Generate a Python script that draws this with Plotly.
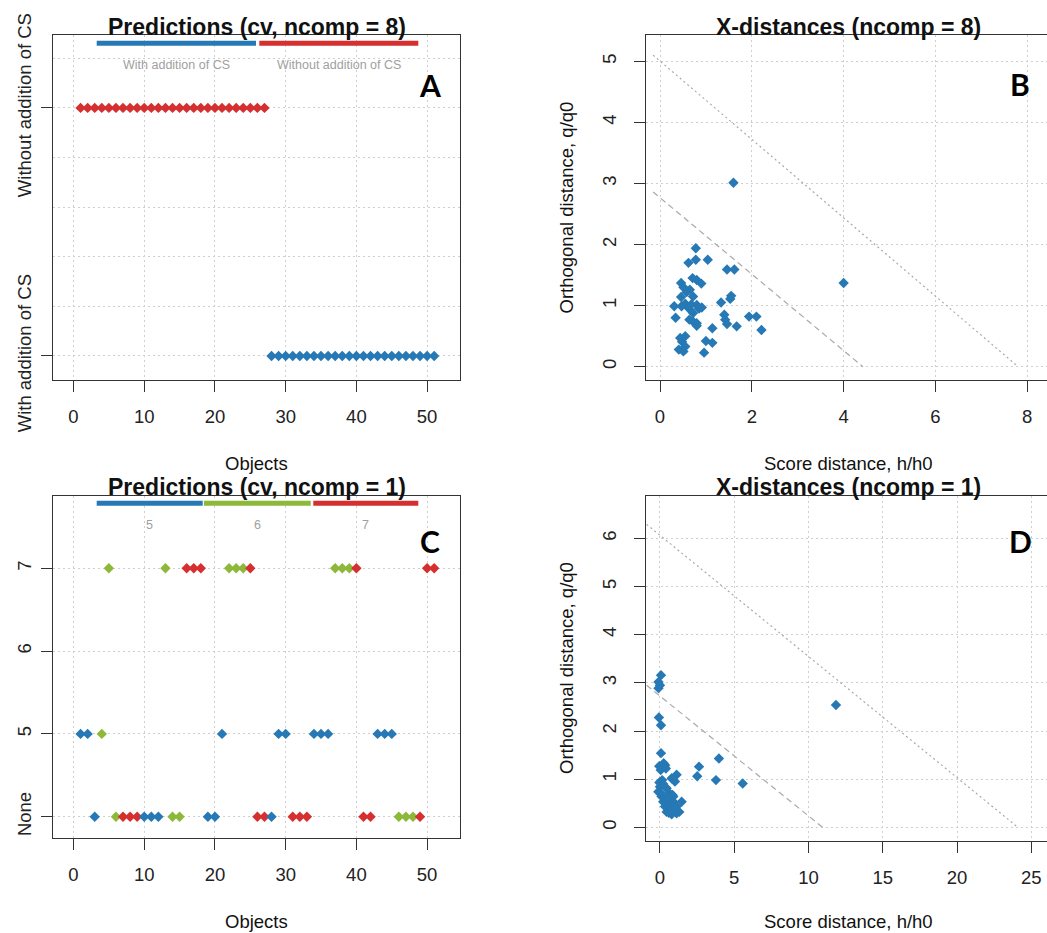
import plotly.graph_objects as go

W, H = 1047, 933

# ---------------- data ----------------
objects = list(range(1, 52))

# Panel A: predictions with ncomp = 8 (1 = With addition of CS, 2 = Without addition of CS)
classes_A = ["With addition of CS", "Without addition of CS"]
pred_A = [2, 2, 2, 2, 2, 2, 2, 2, 2, 2, 2, 2, 2, 2, 2, 2, 2, 2, 2, 2, 2, 2, 2, 2, 2, 2, 2,
          1, 1, 1, 1, 1, 1, 1, 1, 1, 1, 1, 1, 1, 1, 1, 1, 1, 1, 1, 1, 1, 1, 1, 1]
ref_A = [2, 2, 2, 2, 2, 2, 2, 2, 2, 2, 2, 2, 2, 2, 2, 2, 2, 2, 2, 2, 2, 2, 2, 2, 2, 2, 2,
         1, 1, 1, 1, 1, 1, 1, 1, 1, 1, 1, 1, 1, 1, 1, 1, 1, 1, 1, 1, 1, 1, 1, 1]

# Panel C: predictions with ncomp = 1
classes_C = ["None", "5", "6", "7"]
pred_C = ["5", "5", "None", "5", "7", "None", "None", "None", "None", "None",
          "None", "None", "7", "None", "None", "7", "7", "7", "None", "None",
          "5", "7", "7", "7", "7", "None", "None", "None", "5", "5",
          "None", "None", "None", "5", "5", "5", "7", "7", "7", "7",
          "None", "None", "5", "5", "5", "None", "None", "None", "None", "7", "7"]
ref_C = ["5", "5", "5", "6", "6", "6", "7", "7", "7", "5",
         "5", "5", "6", "6", "6", "7", "7", "7", "5", "5",
         "5", "6", "6", "6", "7", "7", "7", "5", "5", "5",
         "7", "7", "7", "5", "5", "5", "6", "6", "6", "7",
         "7", "7", "5", "5", "5", "6", "6", "6", "7", "7", "7"]

# Panel B: X-distances, ncomp = 8
h_B = [1.60, 4.00, 0.78, 0.62, 0.78, 1.04, 1.46, 1.62, 0.46, 0.51,
       0.71, 0.80, 0.90, 0.65, 0.72, 0.46, 0.31, 0.55, 0.62, 0.72,
       0.80, 0.91, 1.33, 1.53, 1.55, 0.34, 0.64, 0.72, 0.80, 0.80,
       1.40, 1.42, 1.46, 1.67, 1.94, 2.10, 2.21, 1.14, 1.00, 1.14,
       0.96, 0.41, 0.51, 0.55, 0.48, 0.55, 0.44, 0.58, 0.68, 0.47, 0.85]
q_B = [3.01, 1.37, 1.94, 1.70, 1.75, 1.75, 1.59, 1.59, 1.37, 1.30,
       1.45, 1.42, 1.36, 1.26, 1.15, 1.14, 0.99, 1.03, 0.96, 0.88,
       1.01, 0.97, 1.05, 1.11, 1.16, 0.80, 0.77, 0.74, 0.71, 0.67,
       0.85, 0.77, 0.70, 0.66, 0.82, 0.82, 0.60, 0.63, 0.42, 0.39,
       0.23, 0.28, 0.25, 0.33, 0.41, 0.50, 0.47, 1.22, 1.02, 0.99, 0.95]
limB_extreme_h = [-0.15, 4.42]
limB_extreme_q = [2.86, 0.0]
limB_outlier_h = [-0.15, 7.80]
limB_outlier_q = [5.10, 0.0]

# Panel D: X-distances, ncomp = 1
h_D = [0.07, -0.10, 0.00, -0.10, -0.07, 0.07, 0.07, -0.05, 0.10, 0.35,
       0.05, 0.25, 0.79, 1.12, 1.01, 0.85, 2.63, 2.51, 3.97, 3.77,
       5.57, 11.85, 0.00, -0.11, 0.11, 0.45, 0.67, 0.85, 0.22, 0.56,
       0.90, 1.12, 1.46, 0.34, 0.79, 0.45, 1.30, 0.79, 0.90, 0.11,
       0.63, -0.04, 0.22, 0.67, 1.12, 0.60, 0.30, 1.00, 0.40, 0.15, 0.55]
q_D = [3.16, 3.02, 2.95, 2.89, 2.28, 2.12, 1.54, 1.27, 1.25, 1.29,
       1.19, 1.33, 1.02, 1.09, 0.95, 1.00, 1.26, 1.06, 1.43, 0.98,
       0.91, 2.54, 0.84, 0.74, 0.70, 0.81, 0.70, 0.67, 0.53, 0.50,
       0.53, 0.43, 0.53, 0.43, 0.39, 0.32, 0.32, 0.27, 0.64, 0.64,
       0.36, 0.93, 0.90, 0.57, 0.29, 0.30, 0.60, 0.45, 1.22, 0.98, 0.62]
limD_extreme_h = [-0.90, 10.95]
limD_extreme_q = [2.95, 0.0]
limD_outlier_h = [-0.90, 24.10]
limD_outlier_q = [6.29, 0.0]

# ---------------- styles ----------------
BLUE, GREEN, RED = "#2679B4", "#8DB83A", "#D62F2F"
colA = {1: BLUE, 2: RED}
colC = {"5": BLUE, "6": GREEN, "7": RED}
FONT = "Liberation Sans, Arial, sans-serif"
AXC = "#333333"
GRIDC = "#cfcfcf"
GDASH = "2px,3px"
LIMC = "#a9a9a9"


def fx(px):
    return px / W


def fy(py):
    return 1 - py / H


fig = go.Figure()

mk = dict(symbol="diamond", size=8, line=dict(width=0))

fig.add_trace(go.Scatter(x=objects, y=pred_A, mode="markers",
                         marker=dict(mk, color=[colA[r] for r in ref_A]),
                         xaxis="x", yaxis="y", showlegend=False))
fig.add_trace(go.Scatter(x=objects, y=[classes_C.index(p) + 1 for p in pred_C], mode="markers",
                         marker=dict(mk, color=[colC[r] for r in ref_C]),
                         xaxis="x3", yaxis="y3", showlegend=False))

for hx, qy, dash, xa, ya in [
    (limB_outlier_h, limB_outlier_q, "2px,3px", "x2", "y2"),
    (limB_extreme_h, limB_extreme_q, "6px,4px", "x2", "y2"),
    (limD_outlier_h, limD_outlier_q, "2px,3px", "x4", "y4"),
    (limD_extreme_h, limD_extreme_q, "6px,4px", "x4", "y4"),
]:
    fig.add_trace(go.Scatter(x=hx, y=qy, mode="lines",
                             line=dict(color=LIMC, width=1.2, dash=dash),
                             xaxis=xa, yaxis=ya, showlegend=False, hoverinfo="skip"))

fig.add_trace(go.Scatter(x=h_B, y=q_B, mode="markers", marker=dict(mk, color=BLUE),
                         xaxis="x2", yaxis="y2", showlegend=False))
fig.add_trace(go.Scatter(x=h_D, y=q_D, mode="markers", marker=dict(mk, color=BLUE),
                         xaxis="x4", yaxis="y4", showlegend=False))

tickfont = dict(family=FONT, size=18.5, color="#222")
common = dict(showline=True, linecolor=AXC, linewidth=1.4, ticks="outside", ticklen=11,
              tickcolor=AXC, tickwidth=1.4, showgrid=True, gridcolor=GRIDC, griddash=GDASH,
              gridwidth=1, zeroline=False, tickfont=tickfont, fixedrange=True,
              automargin=False)
xcommon = dict(common, ticklabelstandoff=9)
ycommon = dict(common, tickangle=-90, ticklabelstandoff=10)
ycat = dict(common, tickangle=-90, ticklabelstandoff=2)

fig.update_layout(
    template="none",
    xaxis=dict(xcommon, domain=[fx(53), fx(460)], range=[-2.9, 54.65], anchor="y",
               tickmode="linear", tick0=0, dtick=10, mirror=True),
    yaxis=dict(ycat, domain=[fy(380), fy(35)], range=[0.903, 2.294], anchor="x",
               tickmode="array", tickvals=[1, 2], ticktext=classes_A, mirror=True,
               minor=dict(tickmode="linear", tick0=0, dtick=0.2, showgrid=True, gridcolor=GRIDC,
                          griddash=GDASH, gridwidth=1, ticks="")),
    xaxis2=dict(xcommon, domain=[fx(646), 1.0], range=[-0.305, 8.43], anchor="y2",
                tickmode="linear", tick0=0, dtick=2, mirror=True),
    yaxis2=dict(ycommon, domain=[fy(380), fy(35)], range=[-0.218, 5.43], anchor="x2",
                tickmode="linear", tick0=0, dtick=1),
    xaxis3=dict(xcommon, domain=[fx(53), fx(460)], range=[-2.9, 54.65], anchor="y3",
                tickmode="linear", tick0=0, dtick=10, mirror=True),
    yaxis3=dict(ycat, domain=[fy(838), fy(495.7)], range=[0.743, 4.877], anchor="x3",
                tickmode="array", tickvals=[1, 2, 3, 4], ticktext=classes_C, mirror=True),
    xaxis4=dict(xcommon, domain=[fx(646), 1.0], range=[-0.94, 26.06], anchor="y4",
                tickmode="linear", tick0=0, dtick=5, mirror=True),
    yaxis4=dict(ycommon, domain=[fy(840.7), fy(496)], range=[-0.278, 6.88], anchor="x4",
                tickmode="linear", tick0=0, dtick=1),
)

ann = []


def text(px, py, s, size, bold=False, color="#111", angle=0, family=FONT):
    ann.append(dict(x=fx(px), y=fy(py), xref="paper", yref="paper", text=s, showarrow=False,
                    xanchor="center", yanchor="middle", textangle=angle,
                    font=dict(family=family, size=size, color=color,
                              weight="bold" if bold else "normal")))


# titles
text(256.5, 27, "Predictions (cv, ncomp = 8)", 23, bold=True)
text(848, 27, "X-distances (ncomp = 8)", 23, bold=True)
text(256.5, 487, "Predictions (cv, ncomp = 1)", 23, bold=True)
text(848, 487, "X-distances (ncomp = 1)", 23, bold=True)
# axis titles
text(256.5, 463, "Objects", 18.5)
text(256.5, 921, "Objects", 18.5)
text(848, 463, "Score distance, h/h0", 18.5)
text(848, 921.5, "Score distance, h/h0", 18.5)
text(566, 207.5, "Orthogonal distance, q/q0", 18.5, angle=-90)
text(566, 668, "Orthogonal distance, q/q0", 18.5, angle=-90)
# panel letters
LET = "Lato, Carlito, Open Sans, sans-serif"
text(430, 85, "A", 30, bold=True, color="#000", family=LET)
text(1020, 84, "B", 30, bold=True, color="#000", family=LET)
text(430, 541, "C", 30, bold=True, color="#000", family=LET)
text(1020, 541, "D", 30, bold=True, color="#000", family=LET)
# group legends
text(176, 65, classes_A[0], 12.5, color="#a0a0a0")
text(339, 65, classes_A[1], 12.5, color="#a0a0a0")
text(149.7, 525, "5", 12.5, color="#a0a0a0")
text(257.4, 525, "6", 12.5, color="#a0a0a0")
text(365.8, 525, "7", 12.5, color="#a0a0a0")

shapes = []


def bar(x0, x1, py, color):
    shapes.append(dict(type="line", xref="paper", yref="paper", x0=fx(x0), x1=fx(x1),
                       y0=fy(py), y1=fy(py), line=dict(color=color, width=5)))


bar(96.7, 256, 43.3, BLUE)
bar(259.3, 418.3, 43.3, RED)
bar(96.7, 202.7, 503.3, BLUE)
bar(204, 310.7, 503.3, GREEN)
bar(313.3, 418.3, 503.3, RED)

fig.update_layout(width=W, height=H, margin=dict(l=0, r=0, t=0, b=0, pad=0), autosize=False,
                  paper_bgcolor="white", plot_bgcolor="white",
                  annotations=ann, shapes=shapes, showlegend=False)

fig.write_html("out.html", config={"displayModeBar": False},
               post_script="document.body.style.margin='0px';")
